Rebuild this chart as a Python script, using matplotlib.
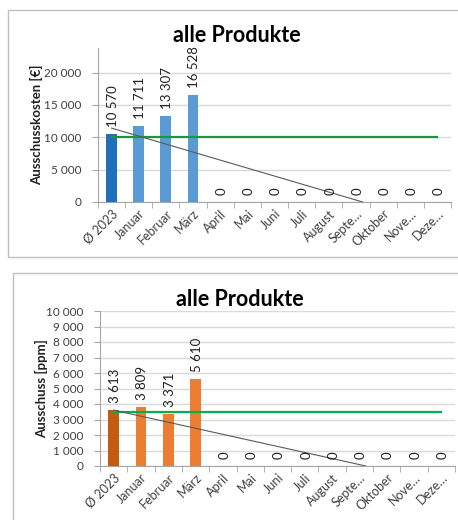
import matplotlib.pyplot as plt
from matplotlib.patches import Rectangle
import numpy as np

plt.rcParams['font.family'] = ['Lato', 'DejaVu Sans']

months = ['Ø 2023', 'Januar', 'Februar', 'März', 'April', 'Mai', 'Juni',
          'Juli', 'August', 'Septe…', 'Oktober', 'Nove…', 'Deze…']
kosten = [10570, 11711, 13307, 16528, 0, 0, 0, 0, 0, 0, 0, 0, 0]
ppm = [3613, 3809, 3371, 5610, 0, 0, 0, 0, 0, 0, 0, 0, 0]
ziel_kosten = 10000
ziel_ppm = 3500

W, H = 458, 520
fig = plt.figure(figsize=(W / 100, H / 100), dpi=100)


def fmt(v):
    return f'{v:,}'.replace(',', ' ')


def draw(ax, vals, colors, target, tcolor, ylim, yticks, ylabel, lab_x):
    x = np.arange(len(vals))
    ax.bar(x, vals, width=0.4, color=colors, zorder=3)
    for xi, v in zip(x, vals):
        ax.annotate(fmt(v), (xi, v), xytext=(1, 5), textcoords='offset points',
                    rotation=90, ha='center', va='bottom', fontsize=9.5,
                    color='#202020', zorder=5)
    # target line
    ax.plot([x[0], x[-1]], [target, target], color=tcolor, lw=1.6, zorder=4)
    # linear trend, cut at the axis minimum like Excel
    k, d = np.polyfit(x, vals, 1)
    xe = min(x[-1], -d / k)
    ax.plot([x[0], xe], [k * x[0] + d, k * xe + d], color='#5a5a5a',
            lw=0.8, zorder=4)

    ax.set_xlim(-0.5, len(vals) - 0.5)
    ax.set_ylim(*ylim)
    ax.set_yticks(yticks)
    ax.set_yticklabels([fmt(t) for t in yticks], fontsize=8.5, color='#404040')
    ax.yaxis.grid(True, color='#d9d9d9', lw=1, zorder=0)
    ax.set_xticks(x)
    ax.set_xticklabels(months, rotation=45, ha='right', rotation_mode='anchor',
                       fontsize=9, color='#404040')
    ax.set_xticks(np.arange(-0.5, len(vals)), minor=True)
    ax.tick_params(axis='x', which='major', length=0, pad=4)
    ax.tick_params(axis='x', which='minor', length=4, color='#a6a6a6')
    ax.tick_params(axis='y', length=4, color='#a6a6a6', pad=8)
    for s in ['top', 'right']:
        ax.spines[s].set_visible(False)
    ax.spines['left'].set_color('#a6a6a6')
    ax.spines['bottom'].set_color('#a6a6a6')
    ax.set_ylabel(ylabel, fontsize=9.5, fontweight='bold', color='#202020')
    ax.yaxis.set_label_coords(lab_x, 0.5)


ax1 = fig.add_axes([98 / W, 1 - 202 / H, 353 / W, 154 / H])
draw(ax1, kosten, ['#1f6fba'] + ['#5b9bd5'] * 12, ziel_kosten, '#1e9440',
     (0, 23800), [0, 5000, 10000, 15000, 20000], 'Ausschusskosten [€]', -0.155)

ax2 = fig.add_axes([100 / W, 1 - 466 / H, 355 / W, 155 / H])
draw(ax2, ppm, ['#c55a11'] + ['#ed7d31'] * 12, ziel_ppm, '#00b050',
     (0, 10000), list(range(0, 10001, 1000)), 'Ausschuss [ppm]', -0.146)

fig.text(237 / W, 1 - 35 / H, 'alle Produkte', ha='center', va='center',
         fontsize=15.5, fontweight='bold')
fig.text(240 / W, 1 - 300 / H, 'alle Produkte', ha='center', va='center',
         fontsize=15.5, fontweight='bold')

# chart frames
fig.add_artist(Rectangle((8 / W, 1 - 257 / H), 460 / W, 247 / H,
                         transform=fig.transFigure, fill=False,
                         edgecolor='#bfbfbf', lw=1))
fig.add_artist(Rectangle((12.5 / W, -10 / H), 460 / W, (520 - 273 + 10) / H,
                         transform=fig.transFigure, fill=False,
                         edgecolor='#bfbfbf', lw=1))

fig.savefig('out.png', dpi=100)
